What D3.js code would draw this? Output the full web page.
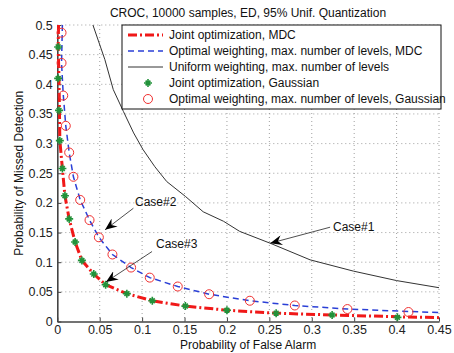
<!DOCTYPE html>
<html>
<head>
<meta charset="utf-8">
<script src="https://cdn.jsdelivr.net/npm/d3@7"></script>
<style>
  body { margin: 0; background: #fff; }
  svg { font-family: "Liberation Sans", Arial, sans-serif; }
</style>
</head>
<body>
<svg id="chart" width="454" height="353"></svg>
<script>
// === Data ===
const xTicks = [0, 0.05, 0.1, 0.15, 0.2, 0.25, 0.3, 0.35, 0.4, 0.45];
const yTicks = [0, 0.05, 0.1, 0.15, 0.2, 0.25, 0.3, 0.35, 0.4, 0.45, 0.5];

// Joint optimization, MDC (red dash-dot)
const jointMdcX = [0.0015, 0.001, 0.002, 0.003, 0.006, 0.009, 0.014, 0.021, 0.029, 0.043, 0.057, 0.082, 0.112, 0.151, 0.200, 0.258, 0.324, 0.401, 0.45];
const jointMdcY = [0.5, 0.463, 0.410, 0.305, 0.258, 0.212, 0.173, 0.134, 0.103, 0.080, 0.062, 0.047, 0.035, 0.026, 0.019, 0.014, 0.011, 0.008, 0.0065];

// Optimal weighting, max. number of levels, MDC (blue dashed)
const optMdcX = [0.006, 0.005, 0.007, 0.010, 0.014, 0.019, 0.027, 0.038, 0.049, 0.065, 0.087, 0.109, 0.142, 0.179, 0.227, 0.280, 0.342, 0.414, 0.45];
const optMdcY = [0.5, 0.436, 0.383, 0.330, 0.285, 0.244, 0.205, 0.171, 0.142, 0.113, 0.091, 0.074, 0.059, 0.046, 0.035, 0.027, 0.021, 0.017, 0.015];

// Uniform weighting, max. number of levels (black solid)
const uniformX = [0.042, 0.056, 0.066, 0.078, 0.090, 0.101, 0.115, 0.129, 0.151, 0.172, 0.196, 0.215, 0.251, 0.298, 0.349, 0.400, 0.450];
const uniformY = [0.5, 0.442, 0.391, 0.354, 0.318, 0.290, 0.261, 0.236, 0.211, 0.185, 0.169, 0.152, 0.132, 0.104, 0.085, 0.069, 0.057];

// Joint optimization, Gaussian (green stars)
const jointGaussX = [0.001, 0.001, 0.002, 0.003, 0.006, 0.009, 0.014, 0.021, 0.029, 0.043, 0.057, 0.082, 0.112, 0.151, 0.200, 0.258, 0.324, 0.401];
const jointGaussY = [0.463, 0.410, 0.356, 0.305, 0.258, 0.212, 0.173, 0.134, 0.103, 0.080, 0.062, 0.047, 0.035, 0.026, 0.019, 0.014, 0.011, 0.007];

// Optimal weighting, max. number of levels, Gaussian (red circles)
const optGaussX = [0.005, 0.005, 0.007, 0.010, 0.014, 0.019, 0.027, 0.038, 0.049, 0.065, 0.087, 0.109, 0.142, 0.179, 0.227, 0.280, 0.342, 0.414];
const optGaussY = [0.487, 0.436, 0.381, 0.330, 0.285, 0.244, 0.205, 0.171, 0.142, 0.113, 0.091, 0.074, 0.059, 0.046, 0.035, 0.027, 0.021, 0.016];

const legendLabels = [
	'Joint optimization, MDC',
	'Optimal weighting, max. number of levels, MDC',
	'Uniform weighting, max. number of levels',
	'Joint optimization, Gaussian',
	'Optimal weighting, max. number of levels, Gaussian'
];

// annotations: [label, tail x, tail y, tip x, tip y, text x, text y]
const annotations = [
	['Case#1', 0.3216, 0.159, 0.251, 0.132, 0.325, 0.159],
	['Case#2', 0.0897, 0.191, 0.0563, 0.1546, 0.0916, 0.2024],
	['Case#3', 0.1117, 0.118, 0.0574, 0.0667, 0.1164, 0.131]
];

// === Layout ===
const margins = {top: 25, right: 15, bottom: 31.5, left: 57.3};
const W = 454, H = 353;
const innerW = W - margins.left - margins.right;
const innerH = H - margins.top - margins.bottom;

const svg = d3.select('#chart');
const g = svg.append('g').attr('transform', `translate(${margins.left},${margins.top})`);

const x = d3.scaleLinear().domain([0, 0.45]).range([0, innerW]);
const y = d3.scaleLinear().domain([0, 0.5]).range([innerH, 0]);
const fmt = d => d === 0 ? '0' : String(+d.toFixed(2));

const zip = (xs, ys) => xs.map((v, i) => [v, ys[i]]);

// grid
g.append('g').selectAll('line').data(xTicks.slice(1)).join('line')
	.attr('x1', d => x(d)).attr('x2', d => x(d)).attr('y1', 0).attr('y2', innerH)
	.attr('stroke', '#888').attr('stroke-width', 0.8).attr('stroke-dasharray', '1,3');
g.append('g').selectAll('line').data(yTicks.slice(1)).join('line')
	.attr('y1', d => y(d)).attr('y2', d => y(d)).attr('x1', 0).attr('x2', innerW)
	.attr('stroke', '#888').attr('stroke-width', 0.8).attr('stroke-dasharray', '1,3');

// axes
const xAxis = g.append('g').attr('transform', `translate(0,${innerH})`)
	.call(d3.axisBottom(x).tickValues(xTicks).tickFormat(fmt).tickSizeInner(-4).tickSizeOuter(0).tickPadding(4));
const yAxis = g.append('g')
	.call(d3.axisLeft(y).tickValues(yTicks).tickFormat(fmt).tickSizeInner(-4).tickSizeOuter(0).tickPadding(4.5));
[xAxis, yAxis].forEach(a => {
	a.select('.domain').attr('stroke', '#444').attr('stroke-width', 1.6);
	a.selectAll('.tick line').attr('stroke', '#444');
	a.selectAll('.tick text').attr('fill', '#222').style('font-size', '12.5px')
		.style('font-family', '"Liberation Sans", Arial, sans-serif');
});

// lines
const line = d3.line().x(d => x(d[0])).y(d => y(d[1]));
g.append('path').datum(zip(uniformX, uniformY)).attr('d', line)
	.attr('fill', 'none').attr('stroke', '#333').attr('stroke-width', 1);
g.append('path').datum(zip(optMdcX, optMdcY)).attr('d', line)
	.attr('fill', 'none').attr('stroke', '#2a3fd6').attr('stroke-width', 1.5).attr('stroke-dasharray', '6,4');
g.append('path').datum(zip(jointMdcX, jointMdcY)).attr('d', line)
	.attr('fill', 'none').attr('stroke', '#f01818').attr('stroke-width', 3).attr('stroke-dasharray', '9,3,2,3');

// markers
const starPath = (s) => `M${-s},0H${s}M0,${-s}V${s}M${-s*0.6},${-s*0.6}L${s*0.6},${s*0.6}M${-s*0.6},${s*0.6}L${s*0.6},${-s*0.6}`;
g.append('g').selectAll('path').data(zip(jointGaussX, jointGaussY)).join('path')
	.attr('transform', d => `translate(${x(d[0])},${y(d[1])})`)
	.attr('d', starPath(4)).attr('stroke', '#22923a').attr('stroke-width', 1.6).attr('fill', 'none');
g.append('g').selectAll('circle').data(zip(optGaussX, optGaussY)).join('circle')
	.attr('cx', d => x(d[0])).attr('cy', d => y(d[1])).attr('r', 4.5)
	.attr('fill', 'none').attr('stroke', '#f03030').attr('stroke-width', 1);

// annotations
const defs = svg.append('defs');
defs.append('marker').attr('id', 'ah').attr('viewBox', '0 0 12 10').attr('refX', 12).attr('refY', 5)
	.attr('markerWidth', 12).attr('markerHeight', 10).attr('markerUnits', 'userSpaceOnUse').attr('orient', 'auto')
	.append('path').attr('d', 'M0,0L12,5L0,10L4,5Z').attr('fill', '#000');
const ann = g.append('g');
annotations.forEach(([label, tx, ty, hx, hy, lx, ly]) => {
	ann.append('line').attr('x1', x(tx)).attr('y1', y(ty)).attr('x2', x(hx)).attr('y2', y(hy))
		.attr('stroke', '#222').attr('stroke-width', 0.8).attr('marker-end', 'url(#ah)');
	ann.append('text').attr('x', x(lx)).attr('y', y(ly)).attr('dy', '0.35em')
		.style('font-size', '12px').attr('fill', '#111').text(label);
});

// title and labels
svg.append('text').attr('x', 248).attr('y', 13).attr('dy', '0.35em').attr('text-anchor', 'middle')
	.style('font-size', '12px').attr('fill', '#111').text('CROC, 10000 samples, ED, 95% Unif. Quantization');
svg.append('text').attr('x', margins.left + innerW / 2).attr('y', 344.5).attr('dy', '0.35em').attr('text-anchor', 'middle')
	.style('font-size', '12px').attr('fill', '#111').text('Probability of False Alarm');
svg.append('text').attr('transform', `translate(19,${margins.top + innerH / 2}) rotate(-90)`).attr('dy', '0.35em')
	.attr('text-anchor', 'middle').style('font-size', '12px').attr('fill', '#111').text('Probability of Missed Detection');

// legend
const lg = svg.append('g');
lg.append('rect').attr('x', 122).attr('y', 25).attr('width', 319).attr('height', 84)
	.attr('fill', '#fff').attr('stroke', '#111').attr('stroke-width', 1);
const rowY = i => 35 + i * 16;
lg.append('line').attr('x1', 128).attr('x2', 163).attr('y1', rowY(0)).attr('y2', rowY(0))
	.attr('stroke', '#f01818').attr('stroke-width', 3).attr('stroke-dasharray', '9,3,2,3');
lg.append('line').attr('x1', 128).attr('x2', 163).attr('y1', rowY(1)).attr('y2', rowY(1))
	.attr('stroke', '#2a3fd6').attr('stroke-width', 1.5).attr('stroke-dasharray', '6,4');
lg.append('line').attr('x1', 128).attr('x2', 163).attr('y1', rowY(2)).attr('y2', rowY(2))
	.attr('stroke', '#333').attr('stroke-width', 1);
lg.append('path').attr('transform', `translate(148,${rowY(3)})`).attr('d', starPath(4))
	.attr('stroke', '#22923a').attr('stroke-width', 1.6).attr('fill', 'none');
lg.append('circle').attr('cx', 148).attr('cy', rowY(4)).attr('r', 4.5)
	.attr('fill', 'none').attr('stroke', '#f03030').attr('stroke-width', 1);
lg.selectAll('text.lbl').data(legendLabels).join('text').attr('class', 'lbl')
	.attr('x', 169).attr('y', (d, i) => rowY(i)).attr('dy', '0.35em')
	.style('font-size', '12px').attr('fill', '#111').text(d => d);
</script>
</body>
</html>
